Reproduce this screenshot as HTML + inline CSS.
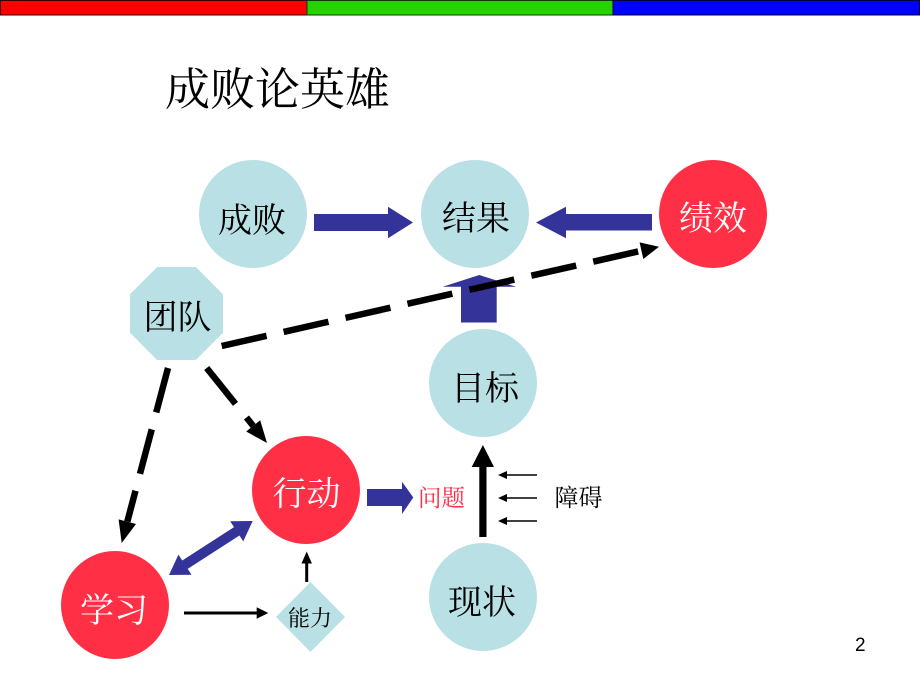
<!DOCTYPE html>
<html>
<head>
<meta charset="utf-8">
<style>
html,body{margin:0;padding:0;background:#fff;}
svg{display:block;}
.cn{font-family:"Liberation Serif","Noto Serif CJK SC","Noto Sans CJK SC",serif;}
</style>
</head>
<body>
<svg width="920" height="690" viewBox="0 0 920 690" xmlns="http://www.w3.org/2000/svg">
  <!-- top bars -->
  <rect x="0.5" y="0.5" width="306.5" height="14.5" fill="#FF0000" stroke="#3a0000" stroke-width="1"/>
  <rect x="307" y="0.5" width="306" height="14.5" fill="#28D200" stroke="#0a3a00" stroke-width="1"/>
  <rect x="613" y="0.5" width="306.5" height="14.5" fill="#0000FF" stroke="#00003a" stroke-width="1"/>

  <!-- title -->
  <text class="cn" x="165" y="105" font-size="45" fill="#000">成败论英雄</text>

  <!-- nodes -->
  <circle cx="253" cy="214" r="54" fill="#B9E0E4"/>
  <circle cx="475" cy="214" r="54" fill="#B9E0E4"/>
  <circle cx="713" cy="214" r="54" fill="#FF2F46"/>
  <circle cx="483" cy="383" r="54" fill="#B9E0E4"/>
  <circle cx="483" cy="597" r="54" fill="#B9E0E4"/>
  <circle cx="306" cy="490" r="54" fill="#FF2F46"/>
  <circle cx="115" cy="605" r="54" fill="#FF2F46"/>
  <polygon points="157.2,267 195.8,267 223,294.2 223,332.8 195.8,360 157.2,360 130,332.8 130,294.2" fill="#B9E0E4"/>
  <polygon points="310.5,582 345,617 310.5,652 276,617" fill="#B9E0E4"/>

  <!-- blue block arrows -->
  <polygon points="314,214 388,214 388,206.7 413,222.5 388,238.3 388,231 314,231" fill="#333399"/>
  <polygon points="652,214 566,214 566,206.7 536,222.5 566,238.3 566,230.5 652,230.5" fill="#333399"/>
  <polygon points="461,322.5 461,286.7 442.7,286.7 479.3,275 516,286.7 496.7,286.7 496.7,322.5" fill="#333399"/>
  <polygon points="367,489 402,489 402,481.7 413.3,497.5 402,514 402,506 367,506" fill="#333399"/>
  <polygon points="252.7,521 243.24,541.38 239.44,535.5 187.68,568.9 191.48,574.78 169,575 178.46,554.62 182.26,560.5 234.02,527.1 230.22,521.22" fill="#333399"/>

  <!-- dashed arrows -->
  <g stroke="#000" stroke-width="6.5" fill="none" stroke-dasharray="46 17.5">
    <line x1="221.7" y1="346" x2="641.5" y2="250.7"/>
    <line x1="168" y1="368" x2="127.3" y2="521.7"/>
    <line x1="206.7" y1="368" x2="253.2" y2="425.9"/>
  </g>
  <polygon points="659,246.7 643.3,259 639.6,242.4" fill="#000"/>
  <polygon points="121.7,543 136,524 118.6,519.4" fill="#000"/>
  <polygon points="267,443 246.2,431.5 260.2,420.2" fill="#000"/>

  <!-- black solid up arrow 现状->目标 -->
  <rect x="479.3" y="465" width="7.2" height="72" fill="#000"/>
  <polygon points="482.9,445 494,467 471.7,467" fill="#000"/>

  <!-- small obstacle arrows -->
  <g stroke="#000" stroke-width="1.4">
    <line x1="537" y1="475" x2="504" y2="475"/>
    <line x1="537" y1="498" x2="504" y2="498"/>
    <line x1="537" y1="521" x2="504" y2="521"/>
  </g>
  <polygon points="498,475 507,471 507,479" fill="#000"/>
  <polygon points="498,498 507,494 507,502" fill="#000"/>
  <polygon points="498,521 507,517 507,525" fill="#000"/>

  <!-- 学习 -> 能力 -->
  <line x1="184" y1="613" x2="258" y2="613" stroke="#000" stroke-width="3"/>
  <polygon points="268.3,613 256.7,607.3 256.7,618.7" fill="#000"/>
  <!-- 能力 -> 行动 -->
  <line x1="306.7" y1="582" x2="306.7" y2="562" stroke="#000" stroke-width="3"/>
  <polygon points="306.7,551.5 301.5,563.5 311.9,563.5" fill="#000"/>

  <!-- labels -->
  <g class="cn" text-anchor="middle" font-size="34">
    <text x="252" y="232" fill="#000">成败</text>
    <text x="476" y="230" fill="#000">结果</text>
    <text x="713" y="230" fill="#fff">绩效</text>
    <text x="177.5" y="329" fill="#000">团队</text>
    <text x="485" y="400" fill="#000">目标</text>
    <text x="482" y="614" fill="#000">现状</text>
    <text x="306.5" y="505.5" fill="#fff">行动</text>
    <text x="114" y="622" fill="#fff">学习</text>
  </g>
  <text class="cn" x="310" y="626" font-size="22" text-anchor="middle" fill="#000">能力</text>
  <text class="cn" x="441.5" y="506" font-size="23.5" text-anchor="middle" fill="#FF2F46">问题</text>
  <text class="cn" x="578.5" y="506" font-size="24" text-anchor="middle" fill="#000">障碍</text>

  <!-- page number -->
  <text x="855" y="651" font-family="Liberation Sans, sans-serif" font-size="19" fill="#000">2</text>
</svg>
</body>
</html>
